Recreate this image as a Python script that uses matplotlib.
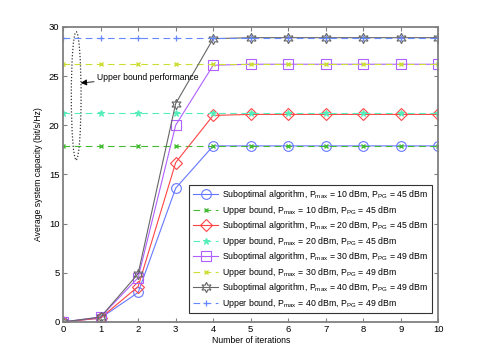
import matplotlib
matplotlib.use("Agg")
import matplotlib.pyplot as plt
from matplotlib.patches import Ellipse
import numpy as np

plt.rcParams['font.family'] = ['Liberation Sans', 'DejaVu Sans']
plt.rcParams['mathtext.fontset'] = 'custom'
plt.rcParams['mathtext.rm'] = 'Liberation Sans'
plt.rcParams['mathtext.it'] = 'Liberation Sans'

iterations = list(range(0, 11))

sub_10 = [0.0, 0.4, 3.0, 13.6, 17.9, 17.9, 17.9, 17.9, 17.9, 17.9, 17.9]
sub_20 = [0.0, 0.4, 3.6, 16.2, 21.0, 21.1, 21.1, 21.1, 21.1, 21.1, 21.1]
sub_30 = [0.0, 0.5, 4.5, 20.0, 26.1, 26.2, 26.2, 26.2, 26.2, 26.2, 26.2]
sub_40 = [0.0, 0.5, 4.9, 22.2, 28.8, 28.9, 28.9, 28.9, 28.9, 28.9, 28.9]

ub_10 = [17.9] * 11
ub_20 = [21.2] * 11
ub_30 = [26.2] * 11
ub_40 = [28.9] * 11

labels = [
    r'Suboptimal algorithm, P$_{\rm max}$ = 10 dBm, P$_{\rm PG}$ = 45 dBm',
    r'Upper bound, P$_{\rm max}$ = 10 dBm, P$_{\rm PG}$ = 45 dBm',
    r'Suboptimal algorithm, P$_{\rm max}$ = 20 dBm, P$_{\rm PG}$ = 45 dBm',
    r'Upper bound, P$_{\rm max}$ = 20 dBm, P$_{\rm PG}$ = 45 dBm',
    r'Suboptimal algorithm, P$_{\rm max}$ = 30 dBm, P$_{\rm PG}$ = 49 dBm',
    r'Upper bound, P$_{\rm max}$ = 30 dBm, P$_{\rm PG}$ = 49 dBm',
    r'Suboptimal algorithm, P$_{\rm max}$ = 40 dBm, P$_{\rm PG}$ = 49 dBm',
    r'Upper bound, P$_{\rm max}$ = 40 dBm, P$_{\rm PG}$ = 49 dBm',
]

fig = plt.figure(figsize=(4.85, 3.63), dpi=100)
ax = fig.add_axes([0.130, 0.113, 0.774, 0.813])

lw = 0.8
ax.plot(iterations, sub_10, '-', color='#6677ff', marker='o', ms=7, mfc='none', lw=lw, mew=0.8, label=labels[0])
ax.plot(iterations, ub_10, '--', color='#44bb33', marker='x', ms=3.5, lw=lw, mew=1.0, dashes=(6, 4), label=labels[1])
ax.plot(iterations, sub_20, '-', color='#ff4444', marker='D', ms=6.5, mfc='none', lw=lw, mew=0.8, label=labels[2])
ax.plot(iterations, ub_20, '--', color='#55eebb', marker='*', ms=4.5, lw=lw, mew=0.8, dashes=(6, 4), label=labels[3])
ax.plot(iterations, sub_30, '-', color='#b060ff', marker='s', ms=6.5, mfc='none', lw=lw, mew=0.8, label=labels[4])
ax.plot(iterations, ub_30, '--', color='#ccdd33', marker='x', ms=3.5, lw=lw, mew=1.0, dashes=(6, 4), label=labels[5])
ax.plot(iterations, sub_40, '-', color='#666666', marker=(6, 1, 0), ms=7.5, mfc='none', lw=lw, mew=0.8, label=labels[6])
ax.plot(iterations, ub_40, '--', color='#6688ff', marker='+', ms=5, lw=lw, mew=0.9, dashes=(6, 4), label=labels[7])

ax.set_xlim(0, 10)
ax.set_ylim(0, 30)
ax.set_xticks(range(0, 11))
ax.set_yticks(range(0, 31, 5))
ax.tick_params(direction='in', top=True, right=True, labelsize=6.8, length=3, color='#808080', width=0.8, pad=2.5)
for s in ax.spines.values():
    s.set_color('#808080')
    s.set_linewidth(1.3)
ax.set_xlabel('Number of iterations', fontsize=6.2, labelpad=1)
ax.set_ylabel('Average system capacity (bit/s/Hz)', fontsize=6.2, labelpad=4)

ell = Ellipse((0.35, 23.0), 0.26, 13.0, fill=False, linestyle=(0, (1, 1.5)), lw=0.9, color='#333333')
ax.add_patch(ell)
ax.annotate('Upper bound performance', xy=(0.47, 24.3), xytext=(0.9, 24.9), fontsize=6.2,
            ha='left', va='center',
            arrowprops=dict(arrowstyle='-|>', color='black', lw=0.6, mutation_scale=9, shrinkA=0, shrinkB=0))

leg = ax.legend(loc='lower right', bbox_to_anchor=(0.982, 0.03), fontsize=6.3, frameon=True, fancybox=False,
                handlelength=2.9, labelspacing=0.28, borderpad=0.4, handletextpad=0.4, borderaxespad=0)
leg.get_frame().set_edgecolor('black')
leg.get_frame().set_linewidth(0.8)

fig.savefig('out.png', dpi=100)
